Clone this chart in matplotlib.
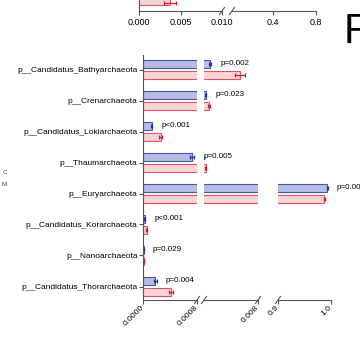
"""Relative abundance of archaeal phyla, two groups, broken x-axis (Prism style)."""

import matplotlib.pyplot as plt
import numpy as np

plt.rcParams["font.family"] = ["Liberation Sans", "DejaVu Sans"]

# ---- data -------------------------------------------------------------
phyla = [
    "p__Candidatus_Bathyarchaeota",
    "p__Crenarchaeota",
    "p__Candidatus_Lokiarchaeota",
    "p__Thaumarchaeota",
    "p__Euryarchaeota",
    "p__Candidatus_Korarchaeota",
    "p__Nanoarchaeota",
    "p__Candidatus_Thorarchaeota",
]
blue_mean = [0.0016, 0.00100, 0.000126, 0.00073, 0.993, 0.000028, 0.000010, 0.00018]
blue_err = [0.00015, 0.00007, 0.00001, 0.00003, 0.001, 0.000008, 0.000003, 0.00002]
red_mean = [0.0056, 0.0015, 0.00026, 0.00105, 0.987, 0.000058, 0.000012, 0.00041]
red_err = [0.0007, 0.00012, 0.00002, 0.00006, 0.001, 0.000008, 0.000003, 0.00003]
p_labels = ["p=0.002", "p=0.023", "p<0.001", "p=0.005", "p=0.004",
            "p<0.001", "p=0.029", "p=0.004"]

# axis segments: (xlim, tick positions, tick labels)
segments = [
    ((0.0, 0.0008), [0.0, 0.0008], ["0.0000", "0.0008"]),
    ((0.0008, 0.008), [0.008], ["0.008"]),
    ((0.9, 1.0), [0.9, 1.0], ["0.9", "1.0"]),
]

# partial panel above
top_mean = [0.0037]
top_err = [0.0007]
top_segments = [
    ((0.0, 0.010), [0.0, 0.005, 0.010], ["0.000", "0.005", "0.010"]),
    ((0.02, 0.8), [0.4, 0.8], ["0.4", "0.8"]),
]

# ---- style ------------------------------------------------------------
W, H = 360, 340
BLUE_FILL, BLUE_EDGE, BLUE_ERR = "#b7bce6", "#4657a8", "#22358f"
RED_FILL, RED_EDGE, RED_ERR = "#fad4d6", "#dc5560", "#c8202e"
AXIS = "#555555"

fig = plt.figure(figsize=(W / 100, H / 100), dpi=100)


def rect(x0, x1, y0, y1):
    """Axes rectangle from pixel edges (y measured from the top)."""
    return [x0 / W, 1 - y1 / H, (x1 - x0) / W, (y1 - y0) / H]


def slash(xp, yp, size=3.5):
    fig.add_artist(plt.Line2D([(xp - size * 0.7) / W, (xp + size * 0.7) / W],
                              [1 - (yp + size) / H, 1 - (yp - size) / H],
                              color=AXIS, lw=0.8))


def style_axis(ax, first, ticks, labels, rotate, fs):
    for s in ["top", "right"]:
        ax.spines[s].set_visible(False)
    if not first:
        ax.spines["left"].set_visible(False)
        ax.tick_params(axis="y", left=False, labelleft=False)
    for s in ["left", "bottom"]:
        ax.spines[s].set_color(AXIS)
        ax.spines[s].set_linewidth(0.8)
    ax.set_xticks(ticks)
    if rotate:
        ax.set_xticklabels(labels, rotation=45, ha="right", va="center",
                           rotation_mode="anchor", fontsize=fs)
    else:
        ax.set_xticklabels(labels, fontsize=fs)
    ax.tick_params(axis="x", length=3, width=0.8, color=AXIS, pad=2)
    ax.tick_params(axis="y", length=3, width=0.8, color=AXIS, pad=1)
    ax.patch.set_alpha(0)


# ---- main broken-axis panel --------------------------------------------
seg_px = [(143, 197), (204, 258), (278, 331)]
top_px, bot_px = 55, 300
row0, step = 69.5, 31.0
y = np.arange(len(phyla))
ylim = ((bot_px - row0) / step, (top_px - row0) / step)
off, hgt = 0.18, 0.28

main_axes = []
for i, ((x0, x1), (lim, ticks, labels)) in enumerate(zip(seg_px, segments)):
    ax = fig.add_axes(rect(x0, x1, top_px, bot_px))
    ax.barh(y - off, blue_mean, height=hgt, color=BLUE_FILL, edgecolor=BLUE_EDGE, lw=0.8)
    ax.barh(y + off, red_mean, height=hgt, color=RED_FILL, edgecolor=RED_EDGE, lw=0.8)
    ax.errorbar(blue_mean, y - off, xerr=blue_err, fmt="none", ecolor=BLUE_ERR,
                elinewidth=0.9, capsize=1.5, capthick=0.9)
    ax.errorbar(red_mean, y + off, xerr=red_err, fmt="none", ecolor=RED_ERR,
                elinewidth=0.9, capsize=1.5, capthick=0.9)
    ax.set_xlim(*lim)
    ax.set_ylim(*ylim)
    style_axis(ax, i == 0, ticks, labels, True, 6)
    if i == 0:
        ax.set_yticks(y)
        ax.set_yticklabels(phyla, fontsize=6)
    else:
        ax.set_yticks([])
    main_axes.append(ax)

# p-values next to the first group's bar, in whichever segment it ends
for k, (m, e, p) in enumerate(zip(blue_mean, blue_err, p_labels)):
    idx = 0 if m + e < 0.0008 else (1 if m + e < 0.008 else 2)
    main_axes[idx].annotate(p, (m + e, y[k] - off), xytext=(6.5, 0),
                            textcoords="offset points", fontsize=5.8,
                            va="center", ha="left", annotation_clip=False)

for xa, xb in [(197, 204), (258, 278)]:
    slash(xa, bot_px)
    slash(xb, bot_px)

# ---- partial panel above (extends past the top edge) ---------------------
top_seg_px = [(139, 222), (232, 316)]
for i, ((x0, x1), (lim, ticks, labels)) in enumerate(zip(top_seg_px, top_segments)):
    ax = fig.add_axes(rect(x0, x1, -10, 11))
    ax.barh([10], top_mean, height=8, color=RED_FILL, edgecolor=RED_EDGE, lw=0.8)
    ax.errorbar(top_mean, [8], xerr=top_err, fmt="none", ecolor=RED_ERR,
                elinewidth=0.9, capsize=1.5, capthick=0.9)
    ax.set_xlim(*lim)
    ax.set_ylim(0, 21)
    ax.set_yticks([])
    style_axis(ax, i == 0, ticks, labels, False, 6.5)
    ax.spines["left"].set_visible(i == 0)
slash(222, 11)
slash(232, 11)

# panel letter and clipped legend text at the left edge
fig.text(344 / W, 1 - 43 / H, "F", fontsize=30, ha="left", va="baseline")
fig.text(7 / W, 1 - 172 / H, "C", fontsize=4.5, ha="right", va="center", color="#444444")
fig.text(7 / W, 1 - 185 / H, "M", fontsize=4.5, ha="right", va="center", color="#444444")

fig.savefig("out.png", dpi=100)
